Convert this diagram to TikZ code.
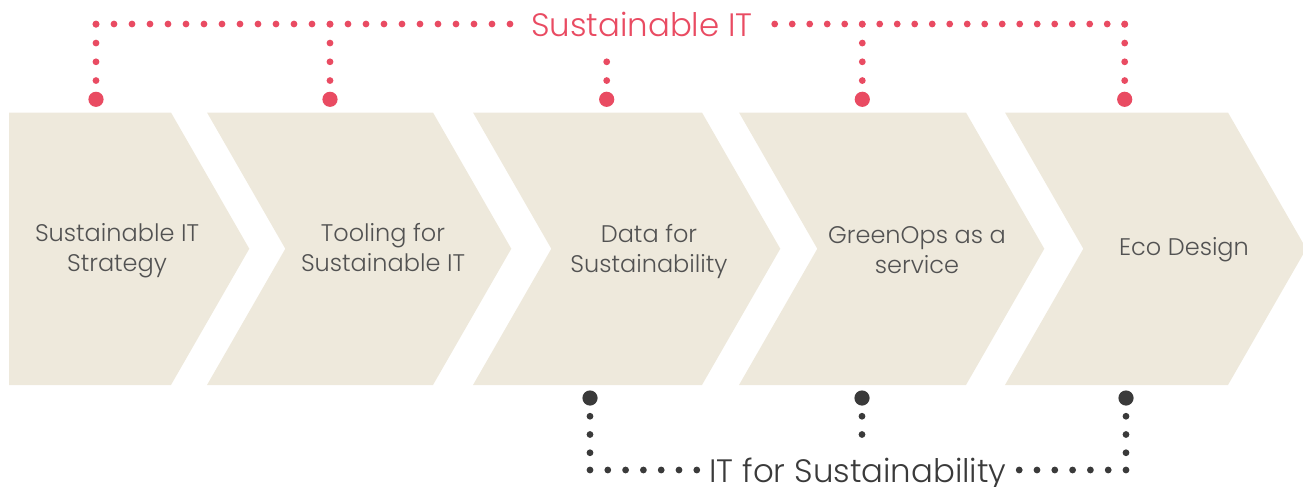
\documentclass[tikz,border=0pt]{standalone}
\usepackage{fontspec}
\setmainfont{Poppins}[UprightFont={* Light}]
\usepackage{xcolor}
\usepackage{tikz}

\definecolor{sitred}{HTML}{E94B62}
\definecolor{itsdark}{HTML}{3A3A3A}
\definecolor{chevfill}{HTML}{EEE9DC}
\definecolor{chevtext}{HTML}{525252}

\tikzset{
    chev/.style={fill=chevfill},
    chevlabel/.style={align=center, text=chevtext, font=\fontsize{12}{15}\selectfont},
    bigdot/.style={circle, fill=#1, inner sep=0pt, minimum size=7.6pt},
    dotrow/.style={draw=#1, line width=3.4pt, line cap=round},
}

\begin{document}
\begin{tikzpicture}[x=0.5pt, y=-0.5pt]
                \useasboundingbox (0,0) rectangle (1303,487);

                % chevrons
                \fill[chev] (9,112.5) -- (171,112.5) -- (249.3,248.75) -- (171,385) -- (9,385) -- cycle;
                \fill[chev] (207,112.5) -- (433,112.5) -- (511.3,248.75) -- (433,385) -- (207,385) -- (285.3,248.75) -- cycle;
                \fill[chev] (473,112.5) -- (702,112.5) -- (780.3,248.75) -- (702,385) -- (473,385) -- (551.3,248.75) -- cycle;
                \fill[chev] (739,112.5) -- (966,112.5) -- (1044.3,248.75) -- (966,385) -- (739,385) -- (817.3,248.75) -- cycle;
                \fill[chev] (1005,112.5) -- (1228,112.5) -- (1306.3,248.75) -- (1228,385) -- (1005,385) -- (1083.3,248.75) -- cycle;

                \node[chevlabel] (strategy) at (117,251) {Sustainable IT\\Strategy};
                \node[chevlabel] (tooling) at (383,248) {Tooling for\\Sustainable IT};
                \node[chevlabel] (data) at (649,251) {Data for\\Sustainability};
                \node[chevlabel] (greenops) at (917,250) {GreenOps as a\\service};
                \node[chevlabel] (ecodesign) at (1184,250) {Eco Design};

                % Sustainable IT
                \node[text=sitred, font=\fontsize{16.2}{19}\selectfont] (sit) at (642,24) {Sustainable IT};
                \node[bigdot=sitred] (s1) at (96,99.3) {};
                \node[bigdot=sitred] (s2) at (330,99.3) {};
                \node[bigdot=sitred] (s3) at (606.7,99.3) {};
                \node[bigdot=sitred] (s4) at (862.3,99.3) {};
                \node[bigdot=sitred] (s5) at (1124.7,99.3) {};

                \draw[dotrow=sitred, dash pattern=on 0pt off 9.375pt] (s1.center) -- (s1 |- sit);
                \draw[dotrow=sitred, dash pattern=on 0pt off 9pt] (s1 |- sit) -- (sit.west);
                \draw[dotrow=sitred, dash pattern=on 0pt off 9.375pt] (s2.center) -- (s2 |- sit);
                \draw[dotrow=sitred, dash pattern=on 0pt off 9.375pt, shorten >=6pt] (s3.center) -- (s3 |- sit.south);
                \draw[dotrow=sitred, dash pattern=on 0pt off 9.375pt] (s4.center) -- (s4 |- sit);
                \draw[dotrow=sitred, dash pattern=on 0pt off 9.375pt] (s5.center) -- (s5 |- sit);
                \draw[dotrow=sitred, dash pattern=on 0pt off 8.75pt] (s5 |- sit) -- (sit.east);

                % IT for Sustainability
                \node[text=itsdark, text depth=0pt, inner xsep=3pt, font=\fontsize{16.2}{19}\selectfont] (its) at (858,470) {IT for Sustainability};
                \node[bigdot=itsdark] (i1) at (590,398) {};
                \node[bigdot=itsdark] (i2) at (862,398) {};
                \node[bigdot=itsdark] (i3) at (1126,398) {};

                \draw[dotrow=itsdark, dash pattern=on 0pt off 9.125pt] (i1.center) -- (i1 |- its);
                \draw[dotrow=itsdark, dash pattern=on 0pt off 8.9pt] (i1 |- its) -- (its.west);
                \draw[dotrow=itsdark, dash pattern=on 0pt off 9.125pt, shorten >=4pt] (i2.center) -- (i2 |- its.north);
                \draw[dotrow=itsdark, dash pattern=on 0pt off 9.125pt] (i3.center) -- (i3 |- its);
                \draw[dotrow=itsdark, dash pattern=on 0pt off 8.9pt] (i3 |- its) -- (its.east);

            \end{tikzpicture}
\end{document}
